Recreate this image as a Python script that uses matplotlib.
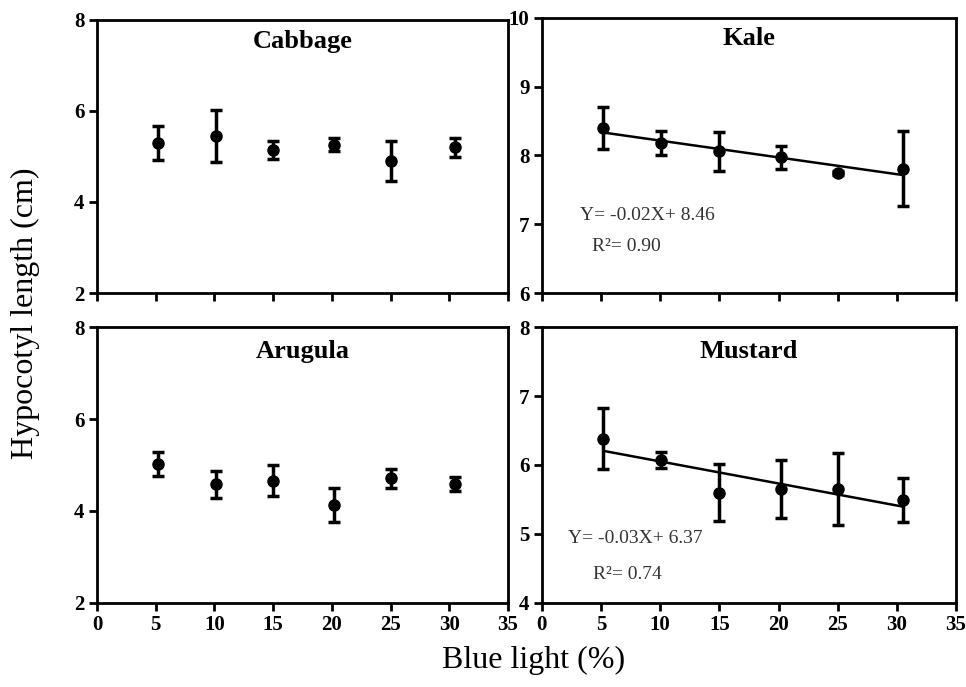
import matplotlib
matplotlib.use('Agg')
import matplotlib.pyplot as plt
import numpy as np

plt.rcParams['font.family'] = ['Liberation Serif', 'DejaVu Serif']

# blue light levels (%)
x_light = [5.2, 10.1, 15, 20.2, 25, 30.5]

# hypocotyl length means and error (cm)
cabbage = [5.30, 5.45, 5.14, 5.26, 4.90, 5.20]
cabbage_err = [0.37, 0.58, 0.19, 0.15, 0.43, 0.21]
kale = [8.40, 8.18, 8.06, 7.97, 7.75, 7.81]
kale_err = [0.30, 0.17, 0.28, 0.16, 0.03, 0.54]
arugula = [5.02, 4.58, 4.66, 4.14, 4.71, 4.58]
arugula_err = [0.27, 0.30, 0.34, 0.37, 0.21, 0.15]
mustard = [6.38, 6.07, 5.60, 5.65, 5.65, 5.49]
mustard_err = [0.44, 0.12, 0.41, 0.42, 0.52, 0.32]

x_ticks = [0, 5, 10, 15, 20, 25, 30, 35]

fig = plt.figure(figsize=(9.66, 6.87), dpi=100)

# [left, bottom, width, height] in figure fraction
ax_cab = fig.add_axes([0.1004, 0.5735, 0.4255, 0.3975])
ax_kale = fig.add_axes([0.561, 0.5735, 0.4286, 0.4005])
ax_aru = fig.add_axes([0.1004, 0.1223, 0.4255, 0.4017])
ax_mus = fig.add_axes([0.561, 0.1223, 0.4286, 0.4017])

panels = [
    (ax_cab, 'Cabbage', cabbage, cabbage_err, (2, 8), [2, 4, 6, 8], False, 0.92),
    (ax_kale, 'Kale', kale, kale_err, (6, 10), [6, 7, 8, 9, 10], False, 0.925),
    (ax_aru, 'Arugula', arugula, arugula_err, (2, 8), [2, 4, 6, 8], True, 0.91),
    (ax_mus, 'Mustard', mustard, mustard_err, (4, 8), [4, 5, 6, 7, 8], True, 0.91),
]

for ax, name, y, yerr, ylim, yticks, show_x, ty in panels:
    ax.errorbar(x_light, y, yerr=yerr, fmt='o', color='black', ms=8,
                elinewidth=2.5, capsize=4, capthick=2.5, zorder=3)
    ax.set_xlim(0, 35)
    ax.set_ylim(*ylim)
    ax.set_xticks(x_ticks)
    ax.set_yticks(yticks)
    if not show_x:
        ax.set_xticklabels([])
    for sp in ax.spines.values():
        sp.set_linewidth(2)
    ax.tick_params(direction='out', length=6, width=2, labelsize=15, pad=3)
    for lab in ax.get_xticklabels() + ax.get_yticklabels():
        lab.set_fontweight('bold')
    ax.text(0.5, ty, name, transform=ax.transAxes, ha='center', va='center',
            fontsize=19, fontweight='bold')

# linear fits for kale and mustard
fits = [
    (ax_kale, kale, 'Y= -0.02X+ 8.46', 'R\u00b2= 0.90', (3.2, 7.13), (4.2, 6.68)),
    (ax_mus, mustard, 'Y= -0.03X+ 6.37', 'R\u00b2= 0.74', (2.2, 4.93), (4.3, 4.41)),
]
for ax, y, eq, r2, p1, p2 in fits:
    k, b = np.polyfit(x_light, y, 1)
    xx = np.array([x_light[0], x_light[-1]])
    ax.plot(xx, k * xx + b, color='black', lw=1.8, zorder=2)
    ax.text(p1[0], p1[1], eq, fontsize=14, color='#333333', va='center', ha='left')
    ax.text(p2[0], p2[1], r2, fontsize=14, color='#333333', va='center', ha='left')

fig.text(0.026, 0.544, 'Hypocotyl length (cm)', rotation=90, ha='center', va='center',
         fontsize=23)
fig.text(0.552, 0.039, 'Blue light (%)', ha='center', va='center', fontsize=23)

fig.savefig('out.png', dpi=100)
